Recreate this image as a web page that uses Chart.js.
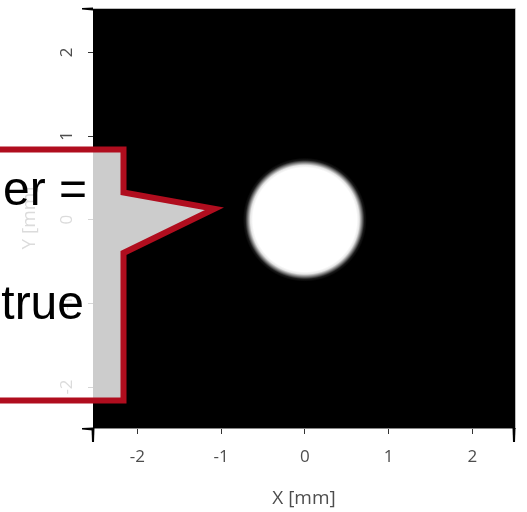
<!DOCTYPE html>
<html>
<head>
<meta charset="utf-8">
<script src="https://cdn.jsdelivr.net/npm/chart.js@4"></script>
<style>
  body { margin: 0; background: #fff; }
</style>
</head>
<body>
<canvas id="spotChart" width="527" height="512"></canvas>
<script>
// spot centre and radius in mm
const spotCentre = [{ x: 0, y: 0 }];
const spotRadius = 0.68;

const xTickValues = [-2, -1, 0, 1, 2];
const yTickValues = [-2, -1, 0, 1, 2];
const xTickLabels = ['-2', '-1', '0', '1', '2'];
const yTickLabels = ['-2', '-1', '0', '1', '2'];
const xRange = [-2.53, 2.51];
const yRange = [-2.49, 2.53];

const calloutLines = ['er =', 'true'];
const calloutTip = { x: -1.08, y: 0.13 };

const axisText = '#4d4d4d';

function spotPixels(ctx) {
    const chart = ctx.chart;
    const xs = chart.scales.x;
    const ys = chart.scales.y;
    const p = ctx.raw || spotCentre[0];
    if (!xs || !ys) return null;
    const cx = xs.getPixelForValue(p.x);
    const cy = ys.getPixelForValue(p.y);
    const r = Math.abs(xs.getPixelForValue(spotRadius) - xs.getPixelForValue(0));
    if (![cx, cy, r].every(Number.isFinite)) return null;
    return { cx, cy, r };
}

const blackBackground = {
    id: 'blackBackground',
    beforeDatasetsDraw(chart) {
        const { ctx, chartArea: a } = chart;
        ctx.save();
        ctx.fillStyle = '#000';
        ctx.fillRect(a.left, a.top, a.right - a.left, a.bottom - a.top);
        ctx.restore();
    },
    afterDatasetsDraw(chart) {
        const { ctx, chartArea: a } = chart;
        ctx.save();
        ctx.strokeStyle = '#bbb';
        ctx.lineWidth = 1;
        ctx.beginPath();
        ctx.moveTo(a.left, a.top + 0.5);
        ctx.lineTo(a.right + 0.5, a.top + 0.5);
        ctx.lineTo(a.right + 0.5, a.bottom);
        ctx.stroke();
        ctx.restore();
    }
};

// heavy marks at the ends of the axes
const axisEnds = {
    id: 'axisEnds',
    afterDraw(chart) {
        const { ctx } = chart;
        const xs = chart.scales.x, ys = chart.scales.y;
        const x0 = xs.getPixelForValue(xRange[0]);
        const x1 = xs.getPixelForValue(xRange[1]);
        const y0 = ys.getPixelForValue(yRange[0]);
        const y1 = ys.getPixelForValue(yRange[1]);
        ctx.save();
        ctx.fillStyle = '#000';
        const wedgeV = x => {
            ctx.beginPath();
            ctx.moveTo(x - 1.5, y0);
            ctx.lineTo(x + 1.5, y0);
            ctx.lineTo(x + 1, y0 + 14);
            ctx.lineTo(x - 1, y0 + 14);
            ctx.closePath();
            ctx.fill();
        };
        const wedgeH = y => {
            ctx.beginPath();
            ctx.moveTo(x0, y - 1.5);
            ctx.lineTo(x0, y + 1.5);
            ctx.lineTo(x0 - 11, y + 0.5);
            ctx.lineTo(x0 - 11, y - 1);
            ctx.closePath();
            ctx.fill();
        };
        wedgeV(x0);
        wedgeV(x1 - 1);
        wedgeH(y0 + 1);
        wedgeH(y1 + 1);
        ctx.restore();
    }
};

const callout = {
    id: 'callout',
    afterDraw(chart) {
        const { ctx } = chart;
        const tipX = chart.scales.x.getPixelForValue(calloutTip.x);
        const tipY = chart.scales.y.getPixelForValue(calloutTip.y);
        const boxRight = 123.5, boxTop = 149.5, boxBottom = 400.5;
        ctx.save();
        ctx.beginPath();
        ctx.moveTo(-10, boxTop);
        ctx.lineTo(boxRight, boxTop);
        ctx.lineTo(boxRight, 192.5);
        ctx.lineTo(tipX, tipY);
        ctx.lineTo(boxRight, 253);
        ctx.lineTo(boxRight, boxBottom);
        ctx.lineTo(-10, boxBottom);
        ctx.closePath();
        ctx.fillStyle = 'rgba(255,255,255,0.8)';
        ctx.fill();
        ctx.lineWidth = 6;
        ctx.lineJoin = 'miter';
        ctx.strokeStyle = '#b00d1e';
        ctx.stroke();

        ctx.fillStyle = '#000';
        ctx.font = '48px "Liberation Sans", Arial, sans-serif';
        ctx.textAlign = 'right';
        ctx.textBaseline = 'alphabetic';
        ctx.fillText(calloutLines[0], 87, 205);
        ctx.fillText(calloutLines[1], 84, 319);
        ctx.restore();
    }
};

const ctx = document.getElementById('spotChart').getContext('2d');

new Chart(ctx, {
    type: 'scatter',
    data: {
        datasets: [{
            label: 'spot',
            data: spotCentre,
            borderWidth: 0,
            pointRadius: c => {
                const s = spotPixels(c);
                return s ? s.r + 5 : 0;
            },
            pointHoverRadius: 0,
            backgroundColor: c => {
                const s = spotPixels(c);
                if (!s) return '#fff';
                const outer = s.r + 5;
                const g = c.chart.ctx.createRadialGradient(s.cx, s.cy, 0, s.cx, s.cy, outer);
                // soft edge, roughly a blurred step
                g.addColorStop(0, '#fff');
                g.addColorStop((s.r - 5) / outer, '#fff');
                g.addColorStop((s.r - 2.5) / outer, '#e6e6e6');
                g.addColorStop(s.r / outer, '#808080');
                g.addColorStop((s.r + 2.5) / outer, '#1a1a1a');
                g.addColorStop(1, '#000');
                return g;
            }
        }]
    },
    options: {
        responsive: false,
        animation: false,
        events: [],
        layout: { padding: { top: 8, right: 12, left: 0, bottom: 0 } },
        plugins: {
            legend: { display: false },
            tooltip: { enabled: false }
        },
        scales: {
            x: {
                type: 'linear',
                min: xRange[0],
                max: xRange[1],
                afterBuildTicks: s => { s.ticks = xTickValues.map(v => ({ value: v })); },
                afterFit: s => {
                    s.height = 84;
                    s.paddingLeft = 0;
                    s.paddingRight = 0;
                },
                grid: { drawOnChartArea: false, drawTicks: true, tickLength: 6, tickColor: '#333' },
                border: { display: true, color: '#888' },
                ticks: {
                    color: axisText,
                    padding: 13,
                    font: { family: '"Open Sans"', size: 17 },
                    callback: (v, i) => xTickLabels[i]
                },
                title: {
                    display: true,
                    text: 'X [mm]',
                    color: axisText,
                    font: { family: '"Open Sans"', size: 19 },
                    padding: { top: 0, bottom: 2 }
                }
            },
            y: {
                type: 'linear',
                min: yRange[0],
                max: yRange[1],
                afterBuildTicks: s => { s.ticks = yTickValues.map(v => ({ value: v })); },
                afterFit: s => {
                    s.width = 93;
                    s.paddingTop = 0;
                    s.paddingBottom = 0;
                },
                grid: { drawOnChartArea: false, drawTicks: true, tickLength: 5, tickColor: '#333' },
                border: { display: true, color: '#bbb' },
                ticks: {
                    color: axisText,
                    padding: 13,
                    minRotation: 90,
                    maxRotation: 90,
                    crossAlign: 'center',
                    font: { family: '"Open Sans"', size: 17 },
                    callback: (v, i) => yTickLabels[i]
                },
                title: {
                    display: true,
                    text: 'Y [mm]',
                    color: axisText,
                    font: { family: '"Open Sans"', size: 19 },
                    padding: { top: 18, bottom: 0 }
                }
            }
        }
    },
    plugins: [blackBackground, axisEnds, callout]
});
</script>
</body>
</html>
